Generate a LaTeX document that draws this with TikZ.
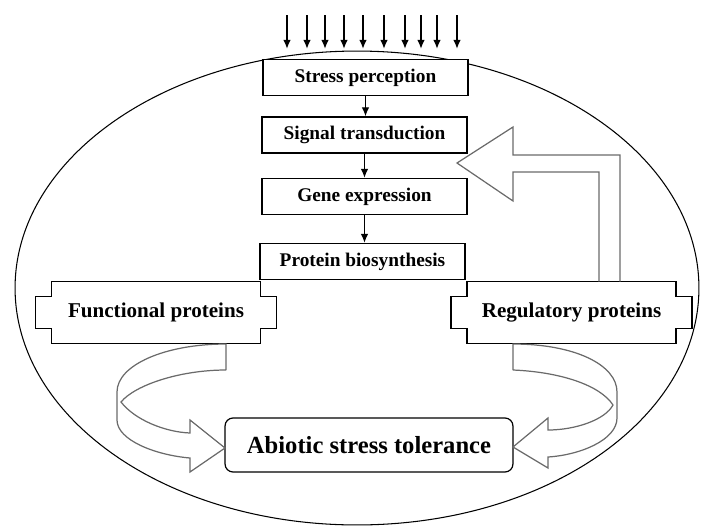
\documentclass[tikz,border=0pt]{standalone}
\usepackage{fontspec}
\setmainfont{Liberation Serif}
\usetikzlibrary{arrows.meta,positioning,calc}
\definecolor{ribbongray}{HTML}{6A6A6A}
\newcommand{\notchframe}[1]{%
  \draw[line width=0.8pt] (#1.north west) -- (#1.north east) -- ([yshift=-0.3cm]#1.north east) -- ++(0.32cm,0) |- ([yshift=0.3cm]#1.south east) -- (#1.south east) -- (#1.south west) -- ([yshift=0.3cm]#1.south west) -- ++(-0.32cm,0) |- ([yshift=-0.3cm]#1.north west) -- cycle;}

\begin{document}
\begin{tikzpicture}[x=0.02cm,y=-0.02cm,
    stepbox/.style={draw,line width=0.8pt,fill=white,minimum width=4.1cm,minimum height=0.72cm,inner sep=0pt,font=\fontsize{11}{13}\selectfont\bfseries},
    protbox/.style={minimum width=4.16cm,minimum height=1.22cm,inner sep=0pt,font=\fontsize{12}{14}\selectfont\bfseries},
    flow/.style={-{Latex[length=1.8mm,width=1.5mm]},line width=0.7pt},
    hollow/.style={draw=ribbongray,line width=0.7pt,line join=miter}]
    \useasboundingbox (0,0) rectangle (701,525);
    \draw[line width=0.6pt] (357,288) ellipse (6.84cm and 4.74cm);
    \node[stepbox] (stress) at (365.5,77.5) {Stress perception};
    \node[stepbox] (signal) at (364.5,135) {Signal transduction};
    \node[stepbox] (gene) at (364.5,196.5) {Gene expression};
    \node[stepbox] (protein) at (362.5,261.5) {Protein biosynthesis};
    \node[protbox] (func) at (156,312.5) {Functional proteins};
    \node[protbox] (reg) at (571.5,312.5) {Regulatory proteins};
    \notchframe{func}
    \notchframe{reg}
    \node[draw,rounded corners=0.16cm,line width=0.7pt,minimum width=5.76cm,minimum height=1.08cm,inner sep=0pt,font=\fontsize{14}{16}\selectfont\bfseries] (abiotic) at (369,445) {Abiotic stress tolerance};
    \foreach \x [count=\i] in {287,307,325,344,363,384,405,421,437,457}
      {\coordinate (s\i) at (\x,15);
       \draw[flow,shorten >=0.2cm] (s\i) -- (s\i |- stress.north);}
    \draw[flow] (stress.south) -- (stress.south |- signal.north);
    \draw[flow] (signal.south) -- (signal.south |- gene.north);
    \draw[flow] (gene.south) -- (gene.south |- protein.north);
    \draw[hollow] ([xshift=0.55cm]reg.north) -- (599,172) -- (513,172) -- (513,201) -- (457,163) -- (513,127) -- (513,155) -- (620,155) -- ([xshift=0.97cm]reg.north);
    \draw[hollow] (226,370) -- (226,344) .. controls (165,344) and (117,365) .. (117,392) -- (117,420) .. controls (117,440) and (155,455) .. (190,458) -- (190,472) -- (225,448) -- (190,420) -- (190,433) .. controls (165,432) and (135,420) .. (121,402) .. controls (135,385) and (180,370) .. (226,370);
    \draw[hollow] (513,370) -- (513,344) .. controls (575,344) and (617,365) .. (617,392) -- (617,418) .. controls (617,440) and (580,455) .. (548,457) -- (548,468) -- (513,447) -- (548,418) -- (548,430) .. controls (575,430) and (605,420) .. (613,405) .. controls (600,385) and (560,372) .. (513,370);
  \end{tikzpicture}
\end{document}
